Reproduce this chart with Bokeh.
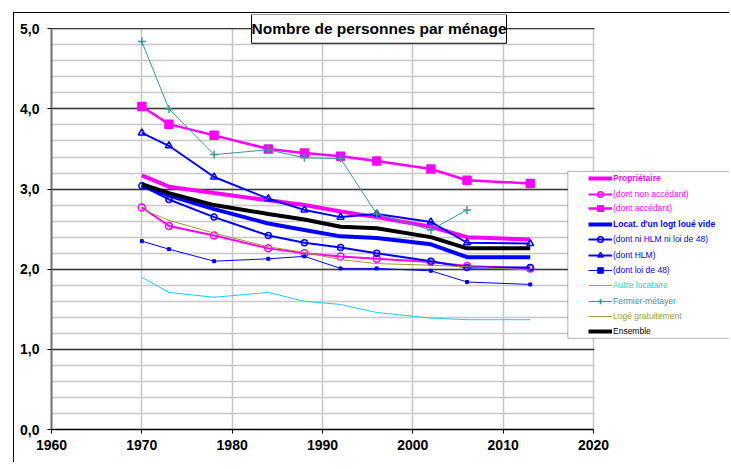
import math
from bokeh.plotting import figure
from bokeh.models import (Range1d, SingleIntervalTicker, CustomJSTickFormatter,
                          Legend, LegendItem, BoxAnnotation, Label)
from bokeh.embed import file_html
from bokeh.resources import INLINE

# ---------------- data ----------------
years = [1970, 1973, 1978, 1984, 1988, 1992, 1996, 2002, 2006, 2013]
proprietaire = [3.17, 3.03, 2.95, 2.86, 2.80, 2.72, 2.65, 2.53, 2.40, 2.37]
non_accedant = [2.77, 2.54, 2.42, 2.26, 2.20, 2.16, 2.13, 2.09, 2.04, 2.01]
accedant = [4.03, 3.81, 3.67, 3.50, 3.45, 3.41, 3.35, 3.25, 3.11, 3.07]
locat_vide = [3.04, 2.92, 2.75, 2.57, 2.49, 2.41, 2.39, 2.31, 2.15, 2.15]
ni_hlm = [3.04, 2.87, 2.65, 2.42, 2.33, 2.27, 2.20, 2.10, 2.02, 2.02]
hlm = [3.70, 3.54, 3.15, 2.88, 2.74, 2.65, 2.69, 2.59, 2.33, 2.32]
loi48 = [2.35, 2.25, 2.10, 2.13, 2.16, 2.01, 2.01, 1.98, 1.84, 1.81]
autre_locataire = [1.90, 1.71, 1.65, 1.71, 1.60, 1.56, 1.46, 1.39, 1.37, 1.37]
fermier = [4.84, 4.00, 3.43, 3.49, 3.39, 3.38, 2.69, 2.49, 2.74, math.nan]
loge_gratuit = [2.75, 2.61, 2.45, 2.28, 2.21, 2.12, 2.07, 2.05, 2.03, 1.99]
ensemble = [3.06, 2.95, 2.80, 2.69, 2.62, 2.53, 2.51, 2.40, 2.26, 2.26]

labels = ["Propriétaire", "(dont non accédant)", "(dont accédant)",
          "Locat. d'un logt loué vide", "(dont ni HLM ni loi de 48)", "(dont HLM)",
          "(dont loi de 48)", "Autre locataire", "Fermier-métayer",
          "Logé gratuitement", "Ensemble"]
values = [proprietaire, non_accedant, accedant, locat_vide, ni_hlm, hlm, loi48,
          autre_locataire, fermier, loge_gratuit, ensemble]

MAG, BLU = "#FF00FF", "#0000FF"
# style: color, line width, marker, marker size, filled, bold label
styles = [
    (MAG, 4, None, 0, False, True),
    (MAG, 2, "circle", 7, False, False),
    (MAG, 2.5, "square", 8, True, False),
    (BLU, 4, None, 0, False, True),
    (BLU, 2, "circle", 6, False, False),
    (BLU, 2, "triangle", 7, False, False),
    (BLU, 1, "square", 3, True, False),
    ("#1EC8F5", 1, None, 0, False, False),
    ("#339999", 1, "cross", 8, False, False),
    ("#999933", 1, None, 0, False, False),
    ("#000000", 4, None, 0, False, False),
]

X_END = 2035.17
Y_END = 5.178

p = figure(width=716, height=450, output_backend="svg", toolbar_location=None,
           x_range=Range1d(1960, X_END), y_range=Range1d(0, Y_END),
           min_border_left=37, min_border_right=0, min_border_top=1,
           min_border_bottom=34)
p.background_fill_color = "white"
p.border_fill_color = "white"
p.outline_line_color = None
p.margin = (12, 0, 0, 13)
p.styles = {"border-left": "1px solid black", "border-top": "1px solid black"}

# axes
p.xaxis.ticker = SingleIntervalTicker(interval=10, num_minor_ticks=0)
p.yaxis.ticker = SingleIntervalTicker(interval=1, num_minor_ticks=5)
p.xaxis.bounds = (1960, 2020)
p.yaxis.bounds = (0, 5)
p.yaxis.formatter = CustomJSTickFormatter(code="return tick.toFixed(1).replace('.', ',');")
for ax in (p.xaxis, p.yaxis):
    ax.major_label_text_font = "Liberation Sans"
    ax.major_label_text_font_style = "bold"
    ax.major_label_text_font_size = "14px"
    ax.major_label_text_color = "black"
    ax.major_tick_in = 0
    ax.major_tick_out = 4
    ax.major_tick_line_color = "black"
    ax.minor_tick_line_color = None
p.xaxis.axis_line_color = "black"
p.xaxis.axis_line_width = 1.5
p.yaxis.axis_line_color = "#707070"
p.yaxis.axis_line_width = 2
p.xaxis.major_label_standoff = 6
p.yaxis.major_label_standoff = 8

p.xgrid.bounds = (1960, 2020)
p.ygrid.bounds = (0, 5)
p.xgrid.grid_line_color = "#c4c4c4"
p.xgrid.grid_line_width = 1.5
p.ygrid.grid_line_color = "#3a3a3a"
p.ygrid.grid_line_width = 1.3
p.ygrid.minor_grid_line_color = "#c8c8c8"
p.ygrid.minor_grid_line_width = 1.4

# white masks: keep the grid inside 1960-2020 x 0-5
p.add_layout(BoxAnnotation(left=2020.12, right=2040, bottom=-1, top=6, level="underlay",
                           fill_color="white", fill_alpha=1, line_color=None))
p.add_layout(BoxAnnotation(left=1950, right=2040, bottom=5.01, top=6, level="underlay",
                           fill_color="white", fill_alpha=1, line_color=None))

# series
renderers = []
for lab, vals, (col, lw, mk, ms, filled, bold) in zip(labels, values, styles):
    rs = [p.line(years, vals, line_color=col, line_width=lw)]
    if mk:
        rs.append(p.scatter(years, vals, marker=mk, size=ms, line_color=col,
                            line_width=1.5 if ms > 4 else 1,
                            fill_color=col if filled else None))
    renderers.append(rs)

# legend box
p.add_layout(BoxAnnotation(left=2017.16, right=2035.1, top=3.221, bottom=1.138,
                           fill_color="white", fill_alpha=1,
                           line_color="black", line_width=1))

item_centers = [178.3, 194.0, 208.3, 224.3, 239.7, 255.0, 270.3, 285.7, 301.3, 316.0, 331.7]
for lab, rs, (col, lw, mk, ms, filled, bold), yc in zip(labels, renderers, styles, item_centers):
    vy = 429.3 - (yc + 7)
    leg = Legend(items=[LegendItem(label=lab, renderers=rs)], location=(537, vy),
                 border_line_color=None, background_fill_alpha=0, padding=0, margin=0,
                 spacing=0, glyph_width=24, glyph_height=14, label_height=14,
                 label_standoff=1, label_text_font="Liberation Sans",
                 label_text_font_size="8.5px", label_text_color=col,
                 label_text_font_style="bold" if bold else "normal")
    p.add_layout(leg)

title = Label(x=1996.26, y=5.0, text="Nombre de personnes par ménage",
              text_align="center", text_baseline="middle",
              text_font="Liberation Sans", text_font_style="bold",
              text_font_size="15.5px", text_color="black",
              background_fill_color="white", border_line_color="black",
              border_line_width=1, padding=(0, 6))
p.add_layout(title)

open("out.html", "w").write(file_html(p, INLINE))
